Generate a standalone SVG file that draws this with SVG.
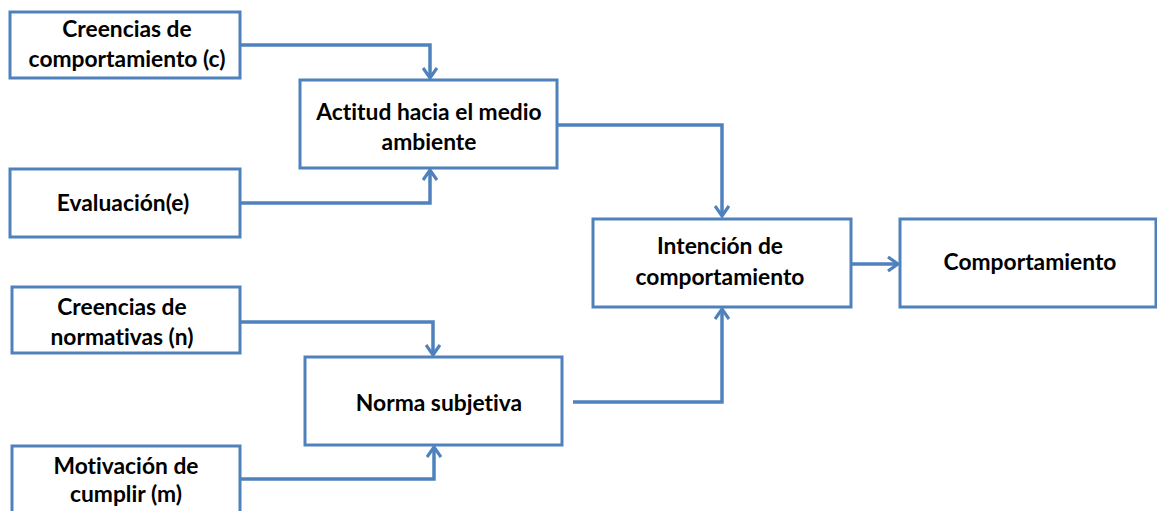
<svg xmlns="http://www.w3.org/2000/svg" width="1157" height="511" viewBox="0 0 1157 511">
<style>
.box{fill:#fff;stroke:#4F81BD;stroke-width:3}
.lbl{font-family:Lato,"Liberation Sans",sans-serif;font-weight:bold;font-size:22.8px;fill:#000;text-anchor:middle;font-variant-ligatures:none;font-feature-settings:"liga" 0}
.con{fill:none;stroke:#4F81BD;stroke-width:3.5}
</style>
<defs>
<marker id="ah" viewBox="0 0 14 16" refX="12" refY="8" markerWidth="14" markerHeight="16" markerUnits="userSpaceOnUse" orient="auto">
<polyline points="2,1 12,8 2,15" fill="none" stroke="#4F81BD" stroke-width="3.2"/>
</marker>
</defs>
<g id="connectors">
<polyline class="con" points="240,45 430,45 430,78" marker-end="url(#ah)"/>
<polyline class="con" points="240,203 430,203 430,170" marker-end="url(#ah)"/>
<polyline class="con" points="557,125 722,125 722,216" marker-end="url(#ah)"/>
<polyline class="con" points="240,322 433,322 433,355" marker-end="url(#ah)"/>
<polyline class="con" points="240,479 434,479 434,447" marker-end="url(#ah)"/>
<polyline class="con" points="573,402 722,402 722,309" marker-end="url(#ah)"/>
<polyline class="con" points="851,264 898,264" marker-end="url(#ah)"/>
</g>
<g id="n1"><rect class="box" x="10" y="12" width="230" height="66"/><text class="lbl" x="127" y="37">Creencias de</text><text class="lbl" x="127" y="67">comportamiento (c)</text></g>
<g id="n2"><rect class="box" x="10" y="169" width="230" height="68"/><text class="lbl" x="123" y="211">Evaluación(e)</text></g>
<g id="n3"><rect class="box" x="300" y="80" width="257" height="88"/><text class="lbl" x="429" y="120">Actitud hacia el medio</text><text class="lbl" x="429" y="150">ambiente</text></g>
<g id="n4"><rect class="box" x="12" y="287" width="228" height="66"/><text class="lbl" x="122" y="315">Creencias de</text><text class="lbl" x="122" y="345">normativas (n)</text></g>
<g id="n5"><rect class="box" x="305" y="357" width="257" height="88"/><text class="lbl" x="439" y="411">Norma subjetiva</text></g>
<g id="n6"><rect class="box" x="12" y="446" width="228" height="70"/><text class="lbl" x="126" y="474">Motivación de</text><text class="lbl" x="126" y="502">cumplir (m)</text></g>
<g id="n7"><rect class="box" x="593" y="219" width="258" height="88"/><text class="lbl" x="720" y="254">Intención de</text><text class="lbl" x="720" y="285">comportamiento</text></g>
<g id="n8"><rect class="box" x="900" y="219" width="256" height="88"/><text class="lbl" x="1030" y="270">Comportamiento</text></g>
</svg>
